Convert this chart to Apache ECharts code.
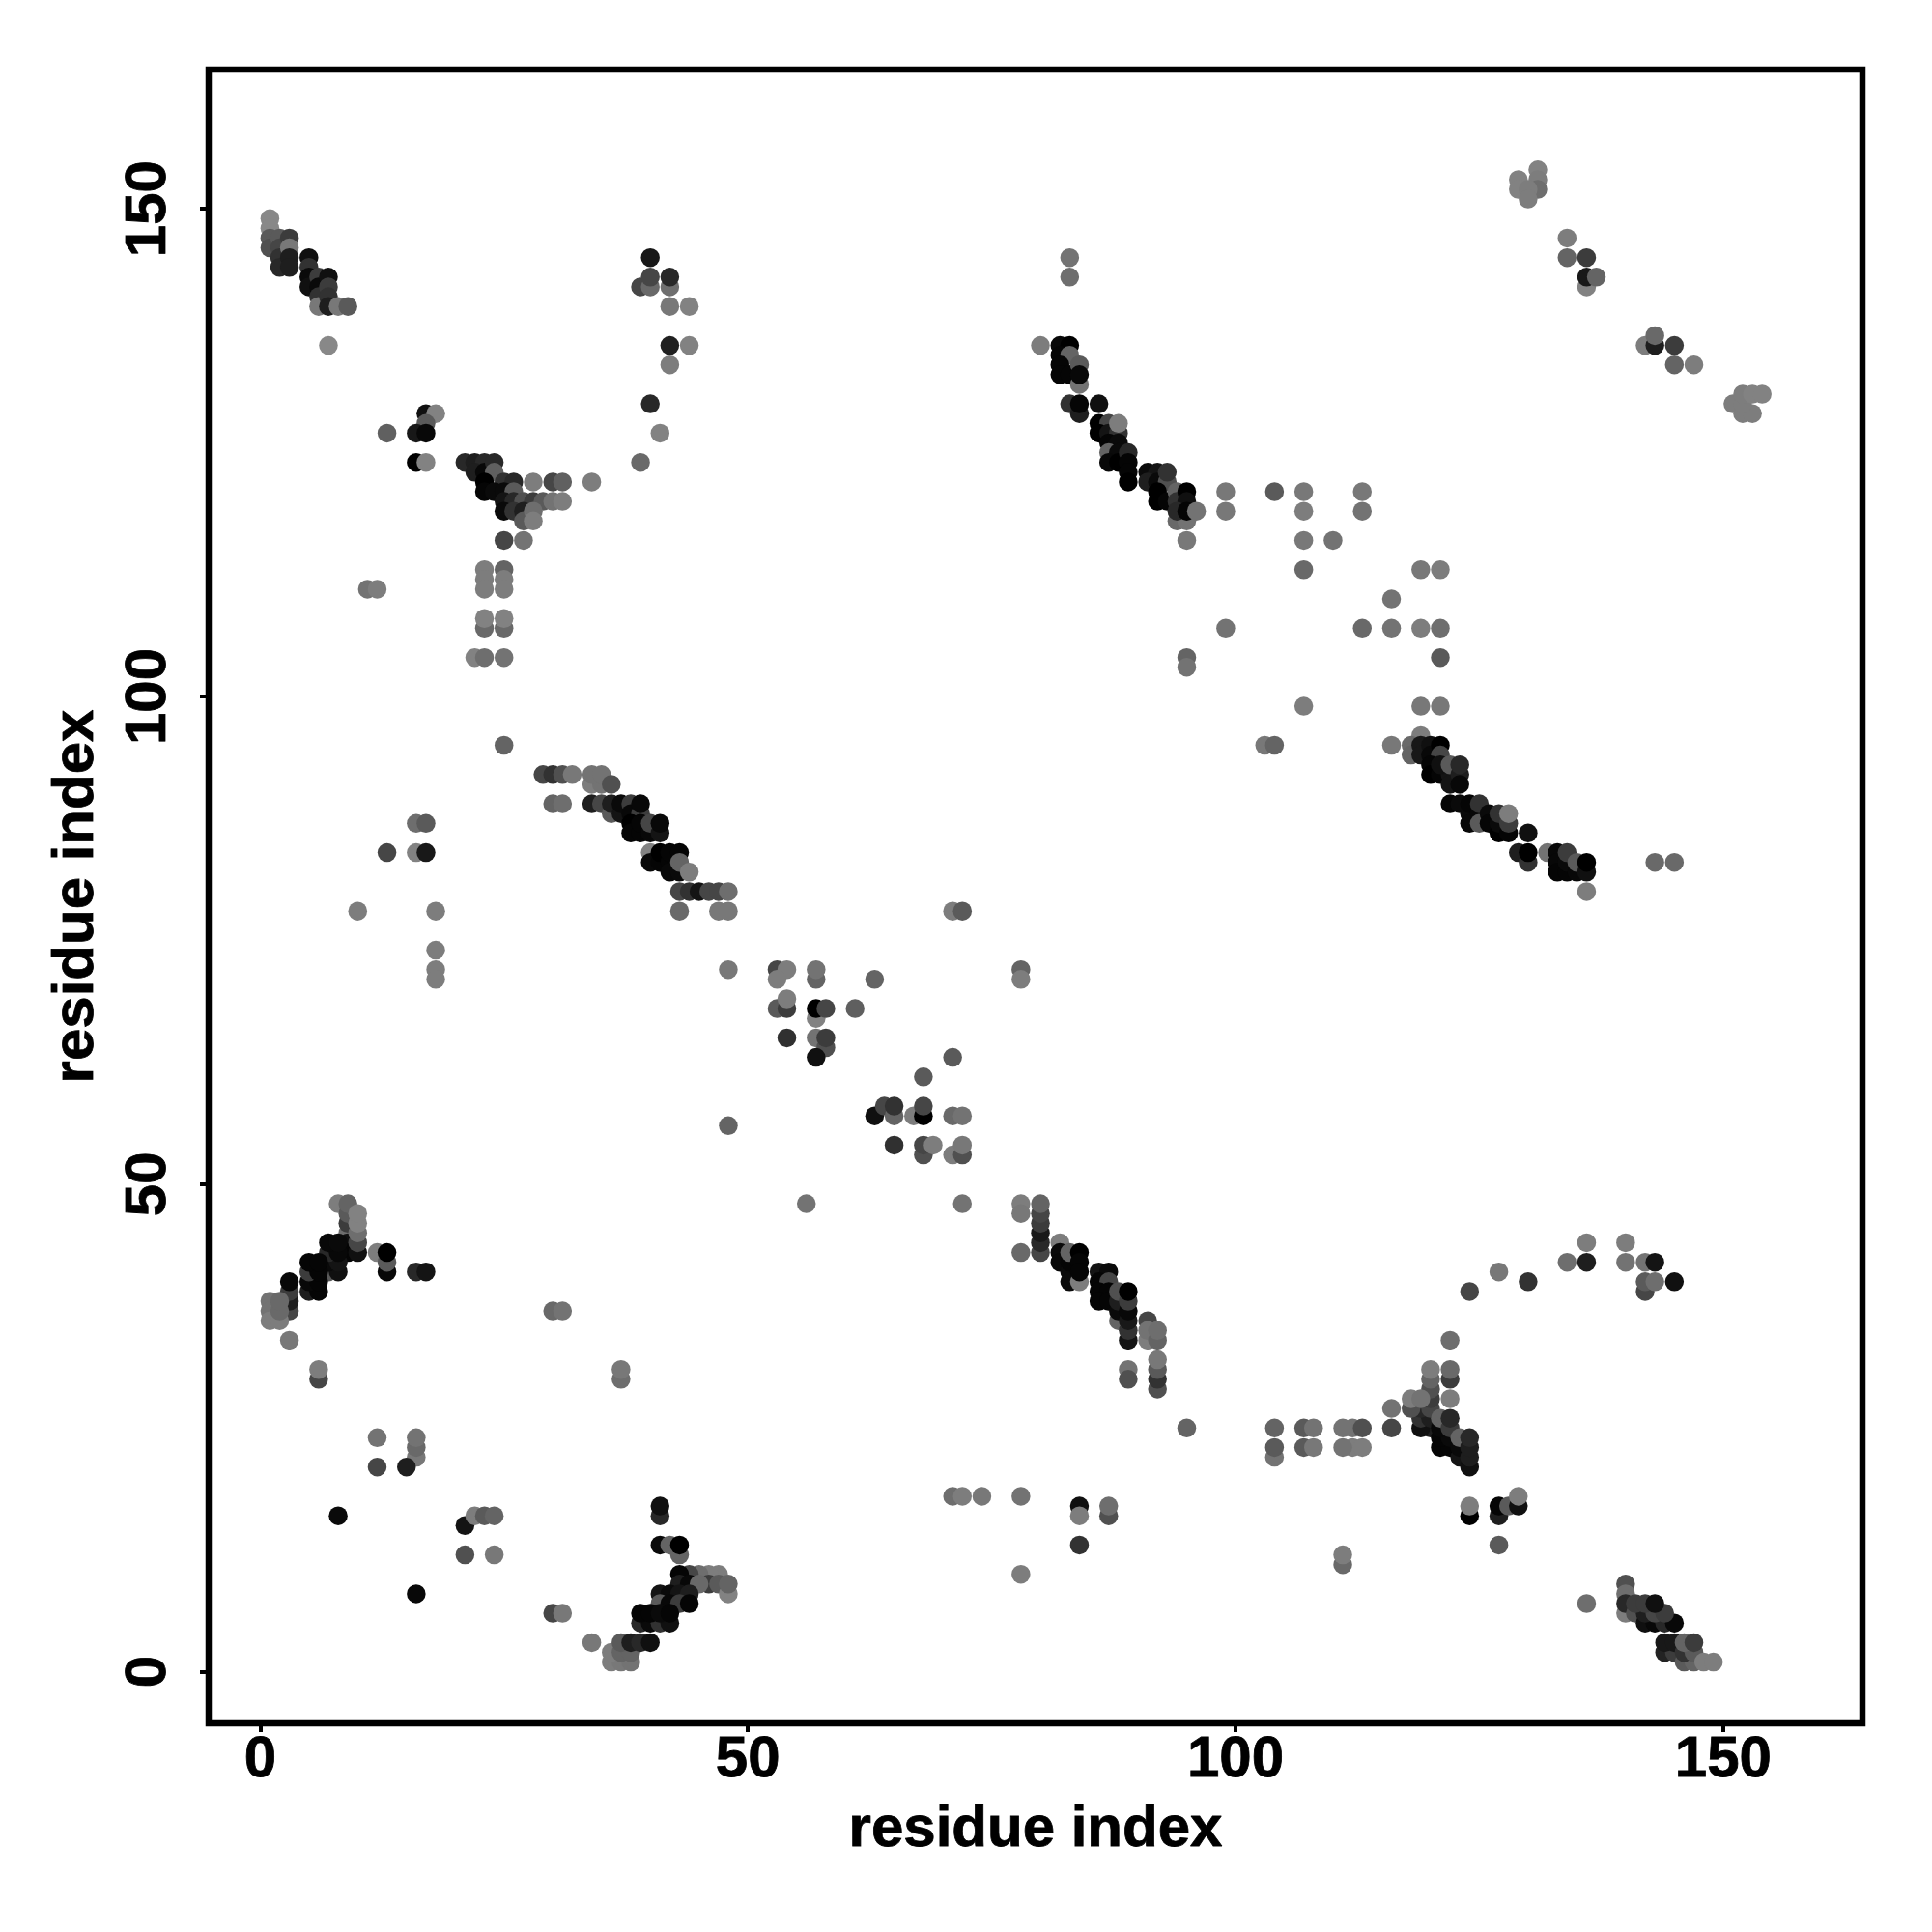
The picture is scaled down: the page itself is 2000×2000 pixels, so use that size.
<!DOCTYPE html>
<html><head><meta charset="utf-8">
<style>html,body{margin:0;padding:0;background:#fff}#c{width:2000px;height:2000px}</style>
<script src="https://cdn.jsdelivr.net/npm/echarts@6/dist/echarts.min.js"></script>
</head><body><div id="c"></div>
<script>
const tickValues=[0,50,100,150];
const axisName="residue index";
// each contact: [residue i, residue j, grey level], in drawing order
const contactsTopLeft=[[1,149,136],[1,148,136],[1,147,90],[1,146,80],[2,147,90],[2,146,70],[2,145,50],[2,144,40],[3,147,60],[3,146,120],[3,145,30],[3,144,30],[5,145,16],[5,144,50],[5,143,10],[5,142,16],[6,143,60],[6,142,10],[6,141,50],[6,140,120],[7,143,16],[7,142,60],[7,141,50],[7,140,30],[8,140,120],[9,140,90],[7,136,136]];
const contactsB=[[13,127,96],[17,129,16],[18,129,130],[17,128,90],[16,127,24],[17,127,8],[16,124,0],[17,124,130]];
const contactsC=[[21,124,40],[22,124,30],[23,124,40],[22,123,30],[23,123,8],[24,124,40],[24,123,96],[23,122,0],[25,122,50],[26,122,40],[28,122,125],[30,122,70],[31,122,96],[34,122,125],[23,121,5],[24,121,10],[25,121,10],[26,121,90],[25,120,20],[26,120,40],[27,120,80],[28,120,60],[29,120,90],[30,120,115],[31,120,125],[25,119,10],[26,119,50],[27,119,30],[27,118,90],[28,119,110],[28,118,125],[25,116,70],[27,116,115],[23,113,125],[25,113,100],[23,112,125],[25,112,125],[23,111,125],[25,111,125],[11,111,115],[12,111,125],[23,107,105],[25,107,105],[23,108,130],[25,108,130],[22,104,130],[23,104,110],[25,104,115]];
const contactsTopMid=[[40,145,24],[39,142,70],[40,142,105],[40,143,70],[42,142,110],[42,143,40],[42,140,120],[44,140,130],[42,136,32],[44,136,130],[42,134,125],[40,130,40],[41,127,130],[39,124,105]];
const contactsD=[[83,145,115],[83,143,110],[80,136,125],[82,136,8],[83,136,0],[82,135,5],[83,135,100],[82,134,5],[82,133,5],[83,133,5],[84,132,115],[84,134,90],[84,133,8],[83,130,50],[84,129,30],[84,130,5],[86,130,16],[86,128,0],[87,128,70],[86,127,0],[87,127,20],[88,127,50],[88,128,125],[87,126,5],[88,126,10],[87,125,100],[88,125,10],[87,124,8],[88,124,0],[89,125,40],[89,124,5],[89,123,5],[89,122,0],[91,123,10],[92,123,20],[91,122,30],[92,122,10],[93,122,80],[93,123,50],[92,121,0],[92,120,0],[93,120,5],[94,121,100],[94,120,50],[95,121,0],[95,120,16],[94,118,105],[95,118,115],[94,119,40],[95,119,5],[96,119,115],[95,116,120],[95,104,100],[95,103,115],[99,121,120],[99,119,120],[104,121,90],[107,121,120],[107,119,125],[107,116,120],[110,116,115],[113,121,120],[113,119,115]];
const contactsTopRight=[[129,153,130],[129,152,130],[131,154,130],[131,153,125],[131,152,110],[130,152,125],[130,151,125],[134,147,125],[134,145,100],[136,145,60],[136,142,130],[136,143,24],[137,143,100],[142,136,125],[143,136,30],[143,137,105],[145,136,60],[145,134,100],[147,134,125],[151,130,125],[152,129,125],[153,129,125],[152,130,125],[152,131,125],[153,131,130],[154,131,130]];
const contactsE=[[107,113,105],[119,113,120],[121,113,125],[116,110,115],[99,107,115],[113,107,105],[116,107,115],[119,107,125],[121,107,110],[121,104,90],[107,99,125],[119,99,120],[121,99,120],[119,96,125],[103,95,120],[104,95,100],[116,95,120],[118,95,105],[118,94,100],[119,95,24],[119,94,24],[120,95,16],[120,94,8],[121,95,0],[121,94,70],[120,93,5],[120,92,0],[121,92,5],[122,92,20],[122,91,20],[121,93,16],[122,93,90],[123,92,30],[123,91,8],[123,93,40],[122,89,5],[123,89,10],[124,88,10],[124,87,8],[124,89,5],[125,88,8],[125,87,90],[125,89,50],[126,88,10],[126,87,5],[127,86,0],[127,87,10],[127,88,50],[128,86,5],[128,87,60],[128,88,125],[130,86,16],[129,84,30],[130,83,50],[130,84,0],[132,84,115],[133,84,8],[133,83,8],[133,82,5],[134,82,5],[134,83,10],[134,84,60],[135,82,8],[135,83,90],[136,82,16],[136,83,0],[136,80,125],[143,83,105],[145,83,105]];
const contactsF=[[29,92,70],[30,92,50],[31,92,80],[32,92,120],[30,89,100],[31,89,110],[34,91,125],[35,91,115],[34,92,115],[35,92,115],[36,91,80],[34,89,30],[35,89,70],[36,88,90],[36,89,30],[37,88,20],[37,89,10],[38,89,60],[38,88,8],[39,88,60],[39,89,8],[38,87,0],[38,86,5],[39,86,5],[39,87,5],[40,86,8],[40,87,70],[41,86,20],[41,87,8],[40,84,130],[40,83,8],[41,83,5],[41,84,0],[42,83,5],[42,84,5],[42,82,8],[43,82,10],[43,84,5],[43,83,100],[44,82,125],[43,80,70],[44,80,50],[45,80,20],[46,80,70],[47,80,70],[48,80,110],[43,78,105],[47,78,120],[48,78,120]];
const contactsMidLeft=[[25,95,100],[16,87,110],[17,87,90],[13,84,70],[16,84,130],[17,84,24],[10,78,125],[18,78,125],[18,74,125],[18,72,125],[18,71,125],[48,72,120],[48,56,100]];
const contactsCentre=[[53,72,70],[54,72,125],[53,71,125],[57,71,100],[57,72,115],[63,71,100],[53,68,90],[54,68,60],[54,69,125],[57,67,130],[57,68,0],[58,68,70],[61,68,95],[54,65,48],[57,65,115],[58,64,80],[58,65,60],[57,63,16],[71,63,90],[68,61,90],[63,57,16],[64,58,70],[65,57,100],[65,58,50],[67,57,125],[68,57,0],[68,58,70],[71,57,105],[72,57,115],[65,54,48],[68,53,80],[68,54,70],[69,54,125],[71,53,125],[72,53,80],[72,54,120],[56,48,115],[72,48,115],[78,72,100],[78,71,125],[71,78,125],[72,78,90]];
const contactsLowerMid=[[78,48,125],[78,47,120],[78,43,105],[80,43,70],[80,44,40],[80,45,24],[80,46,60],[80,47,70],[80,48,100],[82,44,125],[82,43,10],[82,42,8],[83,41,10],[83,40,10],[83,42,5],[83,43,100],[84,43,0],[84,42,5],[84,40,125],[84,41,5],[86,41,20],[87,41,10],[86,40,5],[87,40,70],[86,39,5],[87,39,5],[86,38,5],[87,38,5],[88,36,100],[88,37,10],[88,38,30],[88,39,80],[89,34,20],[89,35,50],[89,36,24],[89,37,8],[89,38,60],[89,39,0],[91,36,70],[91,34,125],[91,35,115],[92,34,100],[92,35,110],[89,31,115],[89,30,80],[92,29,80],[92,30,50],[92,31,90],[92,32,120],[95,25,100]];
const contactsLeft=[[8,48,125],[9,45,110],[9,46,60],[9,47,90],[9,48,100],[9,44,16],[9,43,5],[10,43,16],[10,44,70],[10,45,110],[10,46,130],[10,47,130],[7,41,90],[8,41,16],[7,42,10],[8,42,20],[7,43,40],[8,43,8],[7,44,8],[8,44,10],[5,39,30],[6,39,5],[5,40,8],[6,40,5],[5,41,60],[6,41,5],[5,42,5],[6,42,5],[3,37,70],[3,38,30],[3,39,60],[3,40,8],[1,38,115],[1,37,115],[1,36,125],[2,36,125],[2,37,105],[2,38,105],[3,34,120],[6,30,70],[6,31,125],[12,43,125],[13,41,8],[13,42,90],[13,43,0],[16,41,40],[17,41,20],[30,37,105],[31,37,115],[37,30,110],[37,31,120]];
const contactsLowerLeft=[[12,24,115],[12,21,70],[16,22,120],[16,23,105],[16,24,115],[15,21,30],[8,16,10],[21,15,20],[22,16,125],[23,16,90],[24,16,100],[21,12,80],[24,12,120],[16,8,8],[30,6,70],[31,6,120],[34,3,120]];
const contactsBottomG=[[41,16,40],[41,17,16],[41,13,10],[42,13,100],[43,12,100],[43,13,0],[47,10,125],[46,10,125],[45,10,110],[44,10,70],[43,10,5],[43,9,30],[44,9,8],[46,9,60],[47,9,90],[45,9,105],[48,8,130],[48,9,100],[41,8,20],[42,8,10],[43,8,20],[44,8,30],[41,7,90],[42,7,8],[43,7,60],[44,7,5],[39,5,40],[40,5,10],[41,5,50],[42,5,16],[39,6,5],[40,6,5],[41,6,10],[42,6,5],[36,1,125],[37,1,120],[38,1,115],[36,2,125],[37,2,100],[38,2,100],[37,3,90],[38,3,30],[39,3,40],[40,3,16]];
const contactsH=[[112,25,115],[113,25,80],[112,23,125],[113,23,125],[111,25,115],[111,23,115],[104,25,100],[104,22,115],[104,23,90],[107,25,90],[108,25,115],[107,23,90],[108,23,120],[116,27,115],[116,25,70],[111,11,105],[111,12,125],[122,30,60],[122,31,105],[120,25,30],[119,25,16],[119,26,50],[120,26,30],[119,27,40],[120,27,70],[120,28,60],[120,29,80],[120,30,100],[120,31,125],[118,27,80],[118,28,125],[119,28,115],[122,28,125],[121,23,5],[122,23,5],[121,24,5],[122,24,10],[121,25,8],[121,26,100],[122,25,60],[122,26,40],[123,22,20],[123,23,10],[123,24,100],[124,21,16],[124,22,30],[124,23,30],[124,24,40],[124,16,0],[124,17,125],[127,16,30],[127,17,5],[128,17,90],[129,17,16],[129,18,125],[127,13,90],[124,39,70],[127,41,120],[130,40,50],[122,34,110]];
const contactsLowerRight=[[71,18,110],[72,18,125],[74,18,120],[78,18,115],[78,10,125],[84,17,16],[84,16,125],[87,16,80],[87,17,110],[84,13,50],[134,42,110],[136,42,30],[136,44,125],[140,44,125],[140,42,115],[142,39,70],[142,40,90],[143,40,110],[142,42,115],[143,42,20],[145,40,16],[136,7,110]];
const contactsCorner=[[140,9,80],[140,8,110],[140,6,125],[140,7,40],[141,6,80],[142,5,16],[143,5,8],[144,5,40],[145,5,8],[142,6,30],[143,6,70],[144,6,60],[141,7,60],[142,7,60],[143,7,16],[144,2,35],[145,2,60],[144,3,24],[145,3,24],[146,1,90],[147,1,100],[146,2,50],[147,2,90],[146,3,100],[147,3,60],[148,1,125],[149,1,125]];

const contacts=[].concat(contactsTopLeft,contactsB,contactsC,contactsTopMid,contactsD,contactsTopRight,contactsE,contactsF,contactsMidLeft,contactsCentre,contactsLowerMid,contactsLeft,contactsLowerLeft,contactsBottomG,contactsH,contactsLowerRight,contactsCorner);

const font="'Liberation Sans'";
const heavy={fontFamily:font,fontWeight:'bold',fontSize:60,color:'#000',textBorderColor:'#000',textBorderWidth:0.8};
function axis(nameGap,labelExtra){return {type:'value',min:-5.28,max:164.28,name:axisName,nameLocation:'middle',nameGap:nameGap,
 nameTextStyle:heavy,
 axisLine:{show:false,onZero:false},splitLine:{show:false},
 axisTick:{show:true,customValues:tickValues,length:9,inside:false,lineStyle:{color:'#000',width:4}},
 axisLabel:Object.assign({show:true,customValues:tickValues,margin:8},heavy,labelExtra||{})};}
const chart=echarts.init(document.getElementById('c'),null,{renderer:'canvas',width:2000,height:2000});
chart.setOption({animation:false,backgroundColor:'#fff',
 grid:{show:true,left:216,top:72,width:1712,height:1712,borderColor:'#000',borderWidth:6.5,backgroundColor:'#fff',containLabel:false},
 xAxis:axis(80),
 yAxis:axis(107,{rotate:90,align:'center',verticalAlign:'bottom',margin:32}),
 series:[{type:'scatter',silent:true,symbol:'circle',symbolSize:19.5,clip:false,itemStyle:{opacity:1},
  data:contacts.map(c=>({value:[c[0],c[1]],itemStyle:{opacity:1,color:'rgb('+c[2]+','+c[2]+','+c[2]+')'}}))}]
});
</script></body></html>
